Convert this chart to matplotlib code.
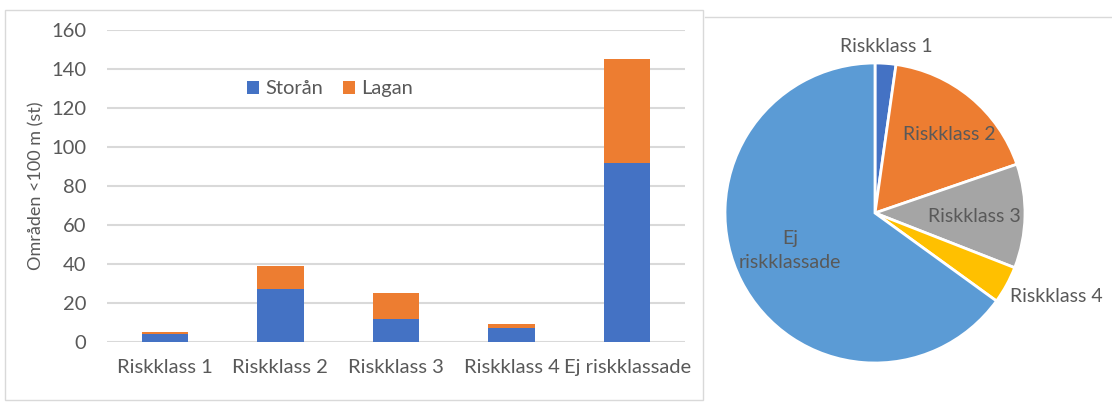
import numpy as np
import matplotlib
matplotlib.use("Agg")
import matplotlib.pyplot as plt
from matplotlib.patches import Rectangle
from matplotlib.lines import Line2D

# data
categories = ["Riskklass 1", "Riskklass 2", "Riskklass 3", "Riskklass 4", "Ej riskklassade"]
storan = [4, 27, 12, 7, 92]
lagan = [1, 12, 13, 2, 53]
pie_labels = ["Riskklass 1", "Riskklass 2", "Riskklass 3", "Riskklass 4", "Ej\nriskklassade"]

plt.rcParams["font.family"] = ["Lato", "DejaVu Sans"]
txt = "#595959"
grid = "#D9D9D9"
fs = 14.5

fig = plt.figure(figsize=(11.12, 4.03), dpi=100)

# panel frames
fig.patches.append(Rectangle((5 / 1112, 1 - 400 / 403), 698 / 1112, 390 / 403,
                             transform=fig.transFigure, fill=False, edgecolor=grid, lw=1))
fig.lines.append(Line2D([705 / 1112, 1], [1 - 17 / 403, 1 - 17 / 403],
                        transform=fig.transFigure, color=grid, lw=1))

# stacked bars
ax = fig.add_axes([107 / 1112, 1 - 342 / 403, 578 / 1112, 312 / 403])
x = np.arange(len(categories))
ax.bar(x, storan, width=0.4, color="#4472C4", label="Storån", zorder=3)
ax.bar(x, lagan, width=0.4, bottom=storan, color="#ED7D31", label="Lagan", zorder=3)
ax.set_xlim(-0.5, 4.5)
ax.set_ylim(0, 160)
ax.set_yticks(range(0, 161, 20))
ax.set_xticks(x)
ax.set_xticklabels(categories)
ax.grid(axis="y", color=grid, lw=1.5, zorder=0)
ax.set_axisbelow(True)
for s in ax.spines.values():
    s.set_visible(False)
ax.tick_params(length=0, labelsize=fs, colors=txt)
ax.tick_params(axis="y", pad=15)
ax.tick_params(axis="x", pad=12)
ax.set_ylabel("Områden <100 m (st)", fontsize=13, color=txt)
ax.yaxis.set_label_coords(-0.108, 0.5)
ax.legend(loc="center", bbox_to_anchor=(0.386, 0.811), ncol=2, frameon=False,
          fontsize=fs, labelcolor=txt, handlelength=0.6, handleheight=0.6,
          handletextpad=0.3, columnspacing=1.0)

# pie of totals
totals = [a + b for a, b in zip(storan, lagan)]
pax = fig.add_axes([725 / 1112, 1 - 363 / 403, 300 / 1112, 300 / 403])
colors = ["#4472C4", "#ED7D31", "#A5A5A5", "#FFC000", "#5B9BD5"]
wedges, _ = pax.pie(totals, colors=colors, startangle=90, counterclock=False,
                    wedgeprops=dict(edgecolor="white", linewidth=2))
pax.set_xlim(-1, 1)
pax.set_ylim(-1, 1)
dists = [1.11, 0.72, 0.66, 1.33, 0.62]
offs = [0, -4, -1, 4, -3]
for w, lab, d, o in zip(wedges, pie_labels, dists, offs):
    ang = np.deg2rad((w.theta1 + w.theta2) / 2 + o)
    pax.text(d * np.cos(ang), d * np.sin(ang), lab, ha="center", va="center",
             fontsize=14, color=txt, clip_on=False, linespacing=1.5)

fig.savefig("out.png", dpi=100)
